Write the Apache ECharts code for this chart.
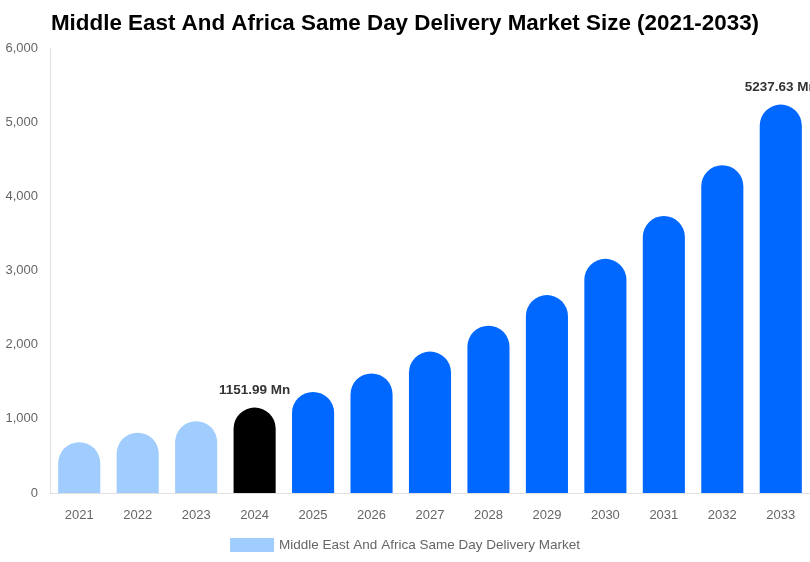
<!DOCTYPE html>
<html>
<head>
<meta charset="utf-8">
<script src="https://cdn.jsdelivr.net/npm/echarts@6/dist/echarts.min.js"></script>
<style>html,body{margin:0;padding:0;background:#fff}#c{width:810px;height:562px}</style>
</head>
<body>
<div id="c"></div>
<script>
const categories = ['2021','2022','2023','2024','2025','2026','2027','2028','2029','2030','2031','2032','2033'];
const values = [685, 813, 968, 1151.99, 1363, 1612, 1907, 2256, 2669, 3157, 3735, 4419, 5237.63];
const barColors = ['#a0cdfd','#a0cdfd','#a0cdfd','#000000','#0068ff','#0068ff','#0068ff','#0068ff','#0068ff','#0068ff','#0068ff','#0068ff','#0068ff'];
const labelledIdx = [3, 12];
const seriesName = 'Middle East And Africa Same Day Delivery Market';
const titleText = 'Middle East And Africa Same Day Delivery Market Size (2021-2033)';

const chart = echarts.init(document.getElementById('c'));
chart.setOption({
  animation: false,
  title: {
    text: titleText, left: 'center', top: 8,
    textStyle: { fontFamily: 'Liberation Sans, Arial, sans-serif', fontSize: 22.4, fontWeight: 'bold', color: '#000' }
  },
  legend: {
    bottom: 5, left: 'center', itemWidth: 44, itemHeight: 14, itemGap: 8,
    icon: 'rect',
    textStyle: { fontFamily: 'Liberation Sans, Arial, sans-serif', fontSize: 13.5, color: '#666' },
    data: [{ name: seriesName, itemStyle: { color: '#a0cdfd' } }]
  },
  grid: { left: 50, right: 0, top: 48, bottom: 69 },
  xAxis: {
    type: 'category', data: categories,
    axisLine: { show: true, lineStyle: { color: '#e0e0e0' } },
    axisTick: { show: false },
    axisLabel: { fontFamily: 'Liberation Sans, Arial, sans-serif', fontSize: 13, color: '#666', margin: 16 }
  },
  yAxis: {
    type: 'value', min: 0, max: 6000, interval: 1000,
    axisLine: { show: true, lineStyle: { color: '#e0e0e0' } },
    axisTick: { show: false },
    splitLine: { show: false },
    axisLabel: {
      fontFamily: 'Liberation Sans, Arial, sans-serif', fontSize: 13, color: '#666', margin: 12,
      formatter: v => v.toLocaleString('en-US')
    }
  },
  series: [{
    name: seriesName, type: 'bar', barWidth: '72%',
    data: values.map((v, i) => ({
      value: v,
      itemStyle: { color: barColors[i], borderRadius: [21, 21, 0, 0] },
      label: labelledIdx.includes(i) ? {
        show: true, position: 'top', distance: 10,
        formatter: p => p.value + ' Mn',
        fontFamily: 'Liberation Sans, Arial, sans-serif', fontSize: 13.5, fontWeight: 'bold', color: '#333'
      } : { show: false }
    }))
  }]
});
</script>
</body>
</html>
